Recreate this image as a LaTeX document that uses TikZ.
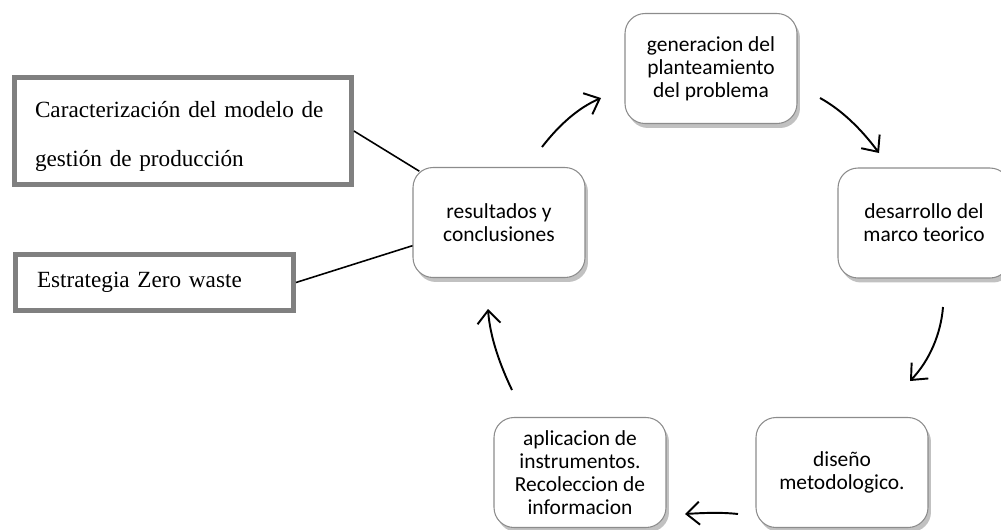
\documentclass[tikz,border=0pt]{standalone}
\usepackage{fontspec}
\setmainfont{Liberation Serif}
\newfontfamily\calib{Carlito}
\usetikzlibrary{arrows.meta,shadows}

\begin{document}
\begin{tikzpicture}[x=0.02cm, y=-0.02cm,
        etapa/.style={draw=black!45, line width=0.6pt, fill=white, rounded corners=0.4cm,
            minimum width=3.44cm, minimum height=2.2cm, align=center,
            font=\calib\fontsize{12.2}{13.2}\selectfont,
            drop shadow={shadow xshift=0.6mm, shadow yshift=-0.9mm, opacity=0.35, fill=black!70}},
        nota/.style={draw=black!50, line width=2.8pt, fill=white, align=left,
            inner ysep=0pt, font=\fontsize{13.2}{27.8}\selectfont},
        flecha/.style={line width=1.1pt, -{Straight Barb[length=2.6mm,width=4.6mm]}}]
        \useasboundingbox (0,0) rectangle (1001,529);

        % etapas del ciclo
        \node[etapa] (gen) at (711,68.5) {generacion del\\planteamiento\\del problema};
        \node[etapa] (des) at (924,223) {desarrollo del\\marco teorico};
        \node[etapa] (dis) at (842,472.5) {diseño\\metodologico.};
        \node[etapa] (apl) at (580,472.5) {aplicacion de\\instrumentos.\\Recoleccion de\\informacion};
        \node[etapa] (res) at (499,222.5) {resultados y\\conclusiones};

        % cuadros de la izquierda
        \node[nota, minimum width=6.74cm, minimum height=2.14cm, text width=5.92cm, inner xsep=0.41cm]
            (car) at (183,131) {\rule{0pt}{15pt}Caracterización del modelo de\\gestión de producción};
        \node[nota, minimum width=5.56cm, minimum height=1.12cm, text width=4.7cm, inner xsep=0.43cm]
            (est) at (154.5,282.5) {Estrategia Zero waste};

        % lineas hacia resultados
        \draw[line width=0.9pt, shorten >=-0.16cm] (car.east) -- (res.north west);
        \draw[line width=0.9pt] (est.east) -- (res.195);

        % extremos de las flechas
        \coordinate (r1) at (542,147);
        \coordinate (g1) at (601,98);
        \coordinate (g2) at (820,98);
        \coordinate (d1) at (879,153);
        \coordinate (d2) at (943,307);
        \coordinate (s1) at (910,381);
        \coordinate (s2) at (738,514);
        \coordinate (a1) at (685,514);
        \coordinate (a2) at (512,390);
        \coordinate (r2) at (488,309);

        % flechas del ciclo
        \draw[flecha] (r1) .. controls (559,125) and (578,108) .. (g1);
        \draw[flecha] (g2) .. controls (842,110) and (862,130) .. (d1);
        \draw[flecha] (d2) .. controls (941,333) and (930,360) .. (s1);
        \draw[flecha] (s2) .. controls (720,512) and (702,513) .. (a1);
        \draw[flecha] (a2) .. controls (500,365) and (490,337) .. (r2);
\end{tikzpicture}
\end{document}
